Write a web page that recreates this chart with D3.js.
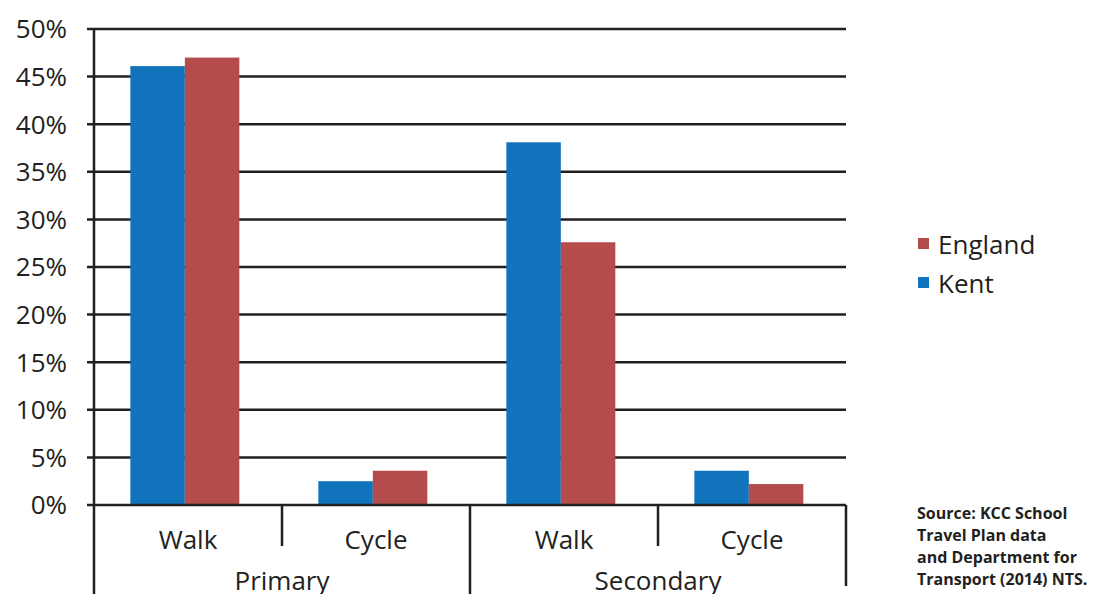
<!DOCTYPE html>
<html><head><meta charset="utf-8">
<script src="https://cdn.jsdelivr.net/npm/d3@7/dist/d3.min.js"></script>
<style>
body{margin:0;background:#fff;}
text{font-family:"Open Sans",sans-serif;fill:#231f20;}
</style></head>
<body><svg id="c" width="1093" height="594"></svg>
<script>
const groups = ["Primary", "Secondary"];
const modes = ["Walk", "Cycle"];
const series = ["Kent", "England"];
const kentValues = [46.1, 2.5, 38.1, 3.6];
const englandValues = [47.0, 3.6, 27.6, 2.2];
const yTicks = [0, 5, 10, 15, 20, 25, 30, 35, 40, 45, 50];
const legendOrder = ["England", "Kent"];
const sourceLines = ["Source: KCC School", "Travel Plan data", "and Department for", "Transport (2014) NTS."];

const colors = {Kent: "#1173bc", England: "#b44c4c"};
const ink = "#231f20";
const svg = d3.select("#c");
const L = 94, R = 846, T = 29, B = 505;

const cats = [];
groups.forEach(g => modes.forEach(m => cats.push(g + "|" + m)));
const rows = cats.map((c, i) => ({key: c, Kent: kentValues[i], England: englandValues[i]}));

const y = d3.scaleLinear().domain([0, 50]).range([B, T]);
const x0 = d3.scaleBand().domain(cats).range([L, R]).padding(0);
const x1 = d3.scaleBand().domain(series).range([0, x0.bandwidth()]).paddingInner(0).paddingOuter(0.725).align(0.46);
const xg = d3.scaleBand().domain(groups).range([L, R]).padding(0);

// gridlines
svg.append("g").selectAll("line").data(yTicks.filter(d => d > 0)).join("line")
  .attr("x1", L - 7).attr("x2", R).attr("y1", d => y(d)).attr("y2", d => y(d))
  .attr("stroke", ink).attr("stroke-width", 2.5);

// bars
const bg = svg.append("g").selectAll("g").data(rows).join("g")
  .attr("transform", d => `translate(${x0(d.key)},0)`);
bg.selectAll("rect").data(d => series.map(s => ({s, v: d[s]}))).join("rect")
  .attr("x", d => x1(d.s)).attr("width", x1.bandwidth())
  .attr("y", d => y(d.v)).attr("height", d => y(0) - y(d.v))
  .attr("fill", d => colors[d.s]);

// y axis
svg.append("line").attr("x1", L).attr("x2", L).attr("y1", T).attr("y2", 594).attr("stroke", ink).attr("stroke-width", 2.5);
svg.append("line").attr("x1", L - 7).attr("x2", R).attr("y1", y(0)).attr("y2", y(0)).attr("stroke", ink).attr("stroke-width", 2.5);
svg.append("g").selectAll("text").data(yTicks).join("text")
  .attr("x", 67).attr("y", d => y(d)).attr("dy", "0.36em").attr("text-anchor", "end")
  .attr("font-size", 26).text(d => d + "%");

// separators
svg.append("g").selectAll("line").data(cats).join("line")
  .attr("x1", d => x0(d) + x0.bandwidth()).attr("x2", d => x0(d) + x0.bandwidth())
  .attr("y1", B).attr("y2", (d, i) => i % 2 === 0 ? 546 : (i === cats.length - 1 ? 586 : 594))
  .attr("stroke", ink).attr("stroke-width", 2.5);

// category labels
svg.append("g").selectAll("text").data(cats).join("text")
  .attr("x", d => x0(d) + x0.bandwidth() / 2).attr("y", 549).attr("text-anchor", "middle")
  .attr("font-size", 26).text(d => d.split("|")[1]);
svg.append("g").selectAll("text").data(groups).join("text")
  .attr("x", d => xg(d) + xg.bandwidth() / 2).attr("y", 590).attr("text-anchor", "middle")
  .attr("font-size", 26).text(d => d);

// legend
const lg = svg.append("g").selectAll("g").data(legendOrder).join("g")
  .attr("transform", (d, i) => `translate(918,${238 + i * 39})`);
lg.append("rect").attr("width", 11).attr("height", 11).attr("fill", d => colors[d]);
lg.append("text").attr("x", 20).attr("y", 16).attr("font-size", 26).text(d => d);

// source
svg.append("g").selectAll("text").data(sourceLines).join("text")
  .attr("x", 917).attr("y", (d, i) => 519 + i * 22).attr("font-size", 16).attr("font-weight", "bold").text(d => d);
</script></body></html>
